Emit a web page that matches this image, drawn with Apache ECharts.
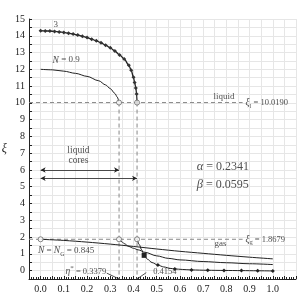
<!DOCTYPE html>
<html><head><meta charset="utf-8">
<script src="https://cdn.jsdelivr.net/npm/echarts@6/dist/echarts.min.js"></script>
<style>html,body{margin:0;padding:0;background:#fff}#c{width:299px;height:302px}</style>
</head><body><div id="c"></div>
<script>
// ---- data ----
const xiLiquid = 10.0190;
const xiGas = 1.8679;
const etaStar = 0.3379;
const etaStar2 = 0.4154;
const alphaVal = '0.2341';
const betaVal = '0.0595';

// curve "3"
const eta3 = [0, 0.02, 0.04, 0.06, 0.08, 0.10, 0.12, 0.14, 0.16, 0.18, 0.20, 0.22, 0.24, 0.26, 0.28, 0.30, 0.32, 0.34, 0.36, 0.38, 0.39, 0.40, 0.405, 0.41, 0.4135, 0.4154];
const xi3  = [14.30, 14.29, 14.28, 14.26, 14.23, 14.20, 14.15, 14.10, 14.04, 13.97, 13.89, 13.80, 13.70, 13.58, 13.44, 13.28, 13.09, 12.86, 12.62, 12.24, 11.95, 11.52, 11.22, 10.89, 10.53, 10.019];

// curve N = 0.9
const eta09 = [0, 0.05, 0.10, 0.15, 0.20, 0.25, 0.28, 0.30, 0.32, 0.33, 0.3379];
const xi09  = [12.00, 11.97, 11.89, 11.76, 11.58, 11.32, 11.07, 10.85, 10.56, 10.35, 10.019];

// curve N = N_G = 0.845 (from eta = 0)
const etaNG = [0, 0.1, 0.2, 0.3, 0.4, 0.5, 0.6, 0.7, 0.8, 0.9, 1.0];
const xiNG  = [1.8679, 1.80, 1.70, 1.58, 1.44, 1.29, 1.15, 1.03, 0.91, 0.80, 0.70];

// curve starting at eta*
const etaB = [0.3379, 0.35, 0.36, 0.38, 0.40, 0.42, 0.45, 0.50, 0.55, 0.60, 0.70, 0.80, 0.90, 1.0];
const xiB  = [1.8679, 1.72, 1.61, 1.44, 1.33, 1.24, 1.09, 0.88, 0.73, 0.64, 0.54, 0.47, 0.41, 0.36];

// lowest curve with markers, starting at eta*2
const etaC = [0.4154, 0.425, 0.435, 0.446, 0.46, 0.48, 0.505, 0.53, 0.56, 0.578, 0.61, 0.65, 0.72, 0.79, 0.865, 0.935, 1.0];
const xiC  = [1.8679, 1.55, 1.24, 0.91, 0.68, 0.48, 0.33, 0.22, 0.13, 0.10, 0.07, 0.04, 0.02, 0.01, 0.0, -0.01, -0.02];
const markC = [0, 0, 0, 2, 0, 0, 1, 0, 0, 1, 0, 1, 1, 1, 1, 1, 1];

// liquid-core arrows
const arrowXi = [6.0, 5.5];
const arrowEnd = [etaStar, etaStar2];

// ---- chart ----
const SERIF = '"Liberation Serif","DejaVu Serif",serif';
const ink = '#222';
const dashGrey = '#888';
const zip = (a, b) => a.map((v, i) => [v, b[i]]);

function textPt(x, y, text, opts) {
  return {
    type: 'scatter', symbolSize: 0, silent: true, z: 10,
    data: [[x, y]],
    label: Object.assign({
      show: true, position: 'inside', formatter: text,
      fontFamily: SERIF, fontSize: 9, color: ink,
      rich: {
        m: { fontStyle: 'italic', fontFamily: SERIF, fontSize: 9.5, color: ink, lineHeight: 13 },
        s: { fontSize: 6, fontFamily: SERIF, color: ink, verticalAlign: 'bottom', lineHeight: 13 },
        p: { fontSize: 7, fontFamily: SERIF, color: ink, verticalAlign: 'top', lineHeight: 13 },
        t: { fontSize: 8.5, fontFamily: SERIF, color: ink, lineHeight: 13 },
        big: { fontStyle: 'italic', fontFamily: SERIF, fontSize: 12.5, color: ink },
        bt: { fontFamily: SERIF, fontSize: 12, color: ink }
      }
    }, opts || {})
  };
}

const series = [];
const dash = { color: dashGrey, width: 1, type: [4, 3] };

// dashed reference lines
series.push({ type: 'line', data: [[-0.05, xiLiquid], [0.87, xiLiquid]], symbol: 'none', lineStyle: dash, z: 2 });
series.push({ type: 'line', data: [[-0.05, xiGas], [0.87, xiGas]], symbol: 'none', lineStyle: dash, z: 2 });
series.push({ type: 'line', data: [[etaStar, xiLiquid], [etaStar, -0.5]], symbol: 'none', lineStyle: dash, z: 2 });
series.push({ type: 'line', data: [[etaStar2, xiLiquid], [etaStar2, -0.5]], symbol: 'none', lineStyle: dash, z: 2 });

// curves
series.push({ type: 'line', data: zip(eta3, xi3), smooth: 0.3, smoothMonotone: 'x', symbol: 'diamond', symbolSize: 4, showAllSymbol: true,
  itemStyle: { color: '#333' }, lineStyle: { color: ink, width: 1.3 }, z: 4 });
series.push({ type: 'line', data: zip(eta09, xi09), smooth: 0.3, smoothMonotone: 'x', symbol: 'none', lineStyle: { color: ink, width: 1 }, z: 4 });
series.push({ type: 'line', data: zip(etaNG, xiNG), smooth: 0.3, symbol: 'none', lineStyle: { color: ink, width: 1 }, z: 4 });
series.push({ type: 'line', data: zip(etaB, xiB), smooth: 0.3, smoothMonotone: 'x', symbol: 'none', lineStyle: { color: ink, width: 1 }, z: 4 });
series.push({ type: 'line', smooth: 0.3, smoothMonotone: 'x', showAllSymbol: true, lineStyle: { color: ink, width: 1 }, itemStyle: { color: '#222' }, z: 4,
  data: etaC.map((e, i) => ({ value: [e, xiC[i]], symbol: markC[i] === 2 ? 'rect' : 'diamond', symbolSize: markC[i] === 0 ? 0 : (markC[i] === 2 ? 5 : 4) })) });

// open circles
series.push({ type: 'scatter', symbol: 'circle', symbolSize: 5, z: 6,
  itemStyle: { color: '#fff', borderColor: '#666', borderWidth: 1 },
  data: [[etaStar, xiLiquid], [etaStar2, xiLiquid], [0, xiGas], [etaStar, xiGas], [etaStar2, xiGas]] });

// arrows
arrowXi.forEach((y, i) => {
  series.push({ type: 'line', data: [], symbol: 'none', z: 5,
    markLine: { silent: true, symbol: ['arrow', 'arrow'], symbolSize: [4, 5], label: { show: false },
      lineStyle: { color: ink, width: 0.8, type: 'solid' },
      data: [[{ coord: [0, y] }, { coord: [arrowEnd[i], y] }]] } });
});

// leader lines
series.push({ type: 'line', data: [[0.285, -0.15], [etaStar, -0.5]], symbol: 'none', lineStyle: { color: ink, width: 0.8 }, z: 5 });
series.push({ type: 'line', data: [[0.455, -0.12], [etaStar2, -0.5]], symbol: 'none', lineStyle: { color: ink, width: 0.8 }, z: 5 });

// texts
series.push(textPt(0.065, 14.65, '3', { fontSize: 9 }));
series.push(textPt(0.11, 12.55, '{m|N} = 0.9'));
series.push(textPt(0.163, 6.85, 'liquid\ncores', { lineHeight: 10, fontSize: 9.5 }));
series.push(textPt(0.79, 10.35, 'liquid', { fontSize: 9 }));
series.push(textPt(0.775, 1.6, 'gas', { fontSize: 9 }));
series.push(textPt(0.87, xiLiquid, '{m|ξ}{s|l}{t| = ' + xiLiquid.toFixed(4) + '}', { position: 'right', distance: 3 }));
series.push(textPt(0.87, xiGas, '{m|ξ}{s|g}{t| = ' + xiGas.toFixed(4) + '}', { position: 'right', distance: 3 }));
series.push(textPt(0.11, 1.2, '{m|N} = {m|N}{s|G} = 0.845'));
series.push(textPt(0.195, -0.05, '{m|η}{p|*}{t| = ' + etaStar.toFixed(4) + '}'));
series.push(textPt(0.535, -0.05, '{t|' + etaStar2.toFixed(4) + '}'));
series.push(textPt(0.785, 6.2, '{big|α}{bt| = ' + alphaVal + '}'));
series.push(textPt(0.785, 5.1, '{big|β}{bt| = ' + betaVal + '}'));

const chart = echarts.init(document.getElementById('c'), null, { renderer: 'canvas' });
chart.setOption({
  animation: false,
  backgroundColor: '#fff',
  grid: { left: 29, right: 3, top: 19, bottom: 23, containLabel: false, outerBoundsMode: 'none' },
  xAxis: {
    type: 'value', min: -0.05, max: 1.1, interval: 0.05,
    name: 'η', nameLocation: 'middle', nameGap: 14,
    nameTextStyle: { fontFamily: SERIF, fontStyle: 'italic', fontSize: 12, color: ink },
    axisLine: { show: true, onZero: false, lineStyle: { color: ink, width: 1 } },
    axisTick: { show: true, inside: true, length: 3, lineStyle: { color: ink } },
    minorTick: { show: true, splitNumber: 5, length: 2, lineStyle: { color: ink } },
    axisLabel: { fontFamily: SERIF, fontSize: 10, color: ink, margin: 5,
      formatter: v => { const k = Math.round(v * 20); return (k % 2 !== 0 || k < 0 || k > 20) ? '' : (k / 20).toFixed(1); } },
    splitLine: { show: true, lineStyle: { color: '#e6e6e6', width: 1 } }
  },
  yAxis: {
    type: 'value', min: -0.5, max: 15, interval: 0.5,
    name: 'ξ', nameLocation: 'middle', nameGap: 22, nameRotate: 0,
    nameTextStyle: { fontFamily: SERIF, fontStyle: 'italic', fontSize: 12, color: ink },
    axisLine: { show: true, onZero: false, lineStyle: { color: ink, width: 1 } },
    axisTick: { show: true, inside: true, length: 3, lineStyle: { color: ink } },
    axisLabel: { fontFamily: SERIF, fontSize: 10, color: ink, margin: 4,
      formatter: v => { const k = Math.round(v * 2); return (k % 2 !== 0 || k < 0) ? '' : String(k / 2); } },
    splitLine: { show: true, lineStyle: { color: '#e6e6e6', width: 1 } }
  },
  series: series
});
</script>
</body></html>
